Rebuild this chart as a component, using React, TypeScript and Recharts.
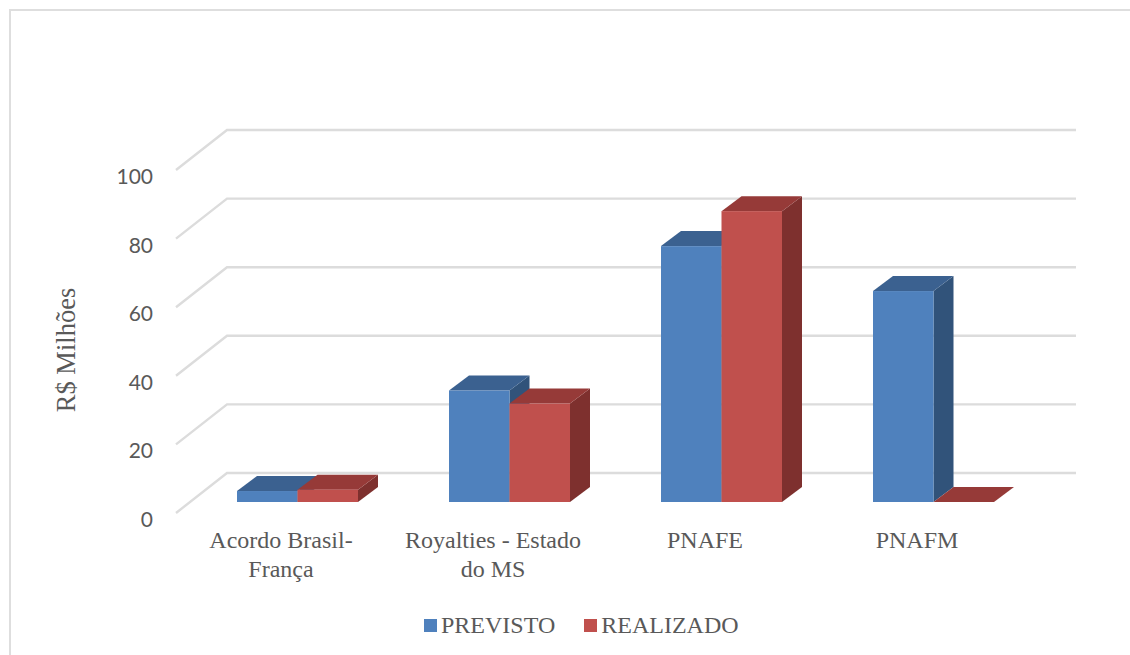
import { BarChart, Bar, XAxis, YAxis, CartesianGrid, Legend } from "recharts";

const categoryLines = [
  ["Acordo Brasil-", "França"],
  ["Royalties - Estado", "do MS"],
  ["PNAFE"],
  ["PNAFM"],
];
const previsto = [3.2, 32.5, 74.6, 61.5];
const realizado = [3.6, 28.7, 84.8, 0];
const yTicks = [0, 20, 40, 60, 80, 100];

const data = categoryLines.map((lines, i) => ({
  name: lines.join(" "),
  previsto: previsto[i],
  realizado: realizado[i],
}));

const TEXT = "#595959";
const GRID = "#dcdcdc";
const SERIF = "'Liberation Serif', serif";

// depth of the extruded bars
const DX = 20;
const DY = -15;

// Wall line plus the short floor/side diagonal, for one gridline
function WallLine(props: any) {
  const { x1, x2, y1 } = props;
  return (
    <path
      d={`M${x1 - 15} ${y1 + 11} L${x1 + 36} ${y1 - 29} L${x2 + 37} ${y1 - 29}`}
      fill="none"
      stroke={GRID}
      strokeWidth={2.4}
    />
  );
}

function box(front: string, top: string, side: string) {
  return function Box3D(props: any) {
    const { x, y, width, height } = props;
    const r = x + width;
    const b = y + height;
    return (
      <g>
        <polygon
          points={`${r},${y} ${r + DX},${y + DY} ${r + DX},${b + DY} ${r},${b}`}
          fill={side}
        />
        <polygon
          points={`${x},${y} ${x + DX},${y + DY} ${r + DX},${y + DY} ${r},${y}`}
          fill={top}
        />
        <rect x={x} y={y} width={width} height={height} fill={front} />
      </g>
    );
  };
}

function ValueTick(props: any) {
  const { x, y, payload } = props;
  return (
    <text
      x={x}
      y={y + 16.5}
      textAnchor="end"
      dominantBaseline="central"
      fontFamily="Lato, sans-serif"
      fontSize={21}
      fill={TEXT}
    >
      {payload.value}
    </text>
  );
}

// Labels sit left of the bar groups, on the floor's front edge
function CategoryTick(props: any) {
  const { x, y, index } = props;
  const labelX = x - 16;
  return (
    <text
      x={labelX}
      y={y + 40}
      textAnchor="middle"
      fontFamily={SERIF}
      fontSize={24}
      fill={TEXT}
    >
      {categoryLines[index].map((line, i) => (
        <tspan key={line} x={labelX} dy={i === 0 ? 0 : 29}>
          {line}
        </tspan>
      ))}
    </text>
  );
}

function AxisTitle() {
  return (
    <text
      transform="translate(75 350) rotate(-90)"
      textAnchor="middle"
      fontFamily={SERIF}
      fontSize={26.5}
      fill={TEXT}
    >
      R$ Milhões
    </text>
  );
}

function LegendRow(props: any) {
  return (
    <div style={{ display: "flex", alignItems: "center" }}>
      {props.payload.map((item: any, i: number) => (
        <div
          key={item.value}
          style={{ display: "flex", alignItems: "center", marginRight: i === 0 ? 29 : 0 }}
        >
          <span style={{ width: 13, height: 13, background: item.color, marginRight: 4 }} />
          <span style={{ fontFamily: SERIF, fontSize: 24, color: TEXT }}>{item.value}</span>
        </div>
      ))}
    </div>
  );
}

export default function App() {
  return (
    <div
      style={{
        position: "absolute",
        left: 0,
        top: 0,
        width: 1130,
        height: 655,
        background: "#fff",
        overflow: "hidden",
      }}
    >
      <div
        style={{
          position: "absolute",
          left: 9,
          top: 9,
          width: 1130,
          height: 660,
          border: "2px solid #dedede",
        }}
      />
      <BarChart
        width={1130}
        height={655}
        data={data}
        margin={{ top: 159, right: 91, bottom: 53, left: 131 }}
        barCategoryGap={45.5}
        barGap={0}
      >
        <CartesianGrid vertical={false} horizontal={WallLine} />
        <XAxis
          dataKey="name"
          height={100}
          axisLine={false}
          tickLine={false}
          interval={0}
          tick={CategoryTick}
          tickMargin={0}
        />
        <YAxis
          width={60}
          domain={[0, 100]}
          ticks={yTicks}
          axisLine={false}
          tickLine={false}
          tick={ValueTick}
          label={{ content: AxisTitle }}
          tickMargin={32}
        />
        <Legend
          layout="horizontal"
          verticalAlign="middle"
          content={LegendRow}
          wrapperStyle={{ left: 424, top: 612, width: 400 }}
        />
        <Bar
          dataKey="previsto"
          name="PREVISTO"
          fill="#4f81bd"
          barSize={60.5}
          isAnimationActive={false}
          shape={box("#4f81bd", "#3b6190", "#31537a")}
        />
        <Bar
          dataKey="realizado"
          name="REALIZADO"
          fill="#c0504d"
          barSize={60.5}
          isAnimationActive={false}
          shape={box("#c0504d", "#963a38", "#7e302e")}
        />
      </BarChart>
    </div>
  );
}
